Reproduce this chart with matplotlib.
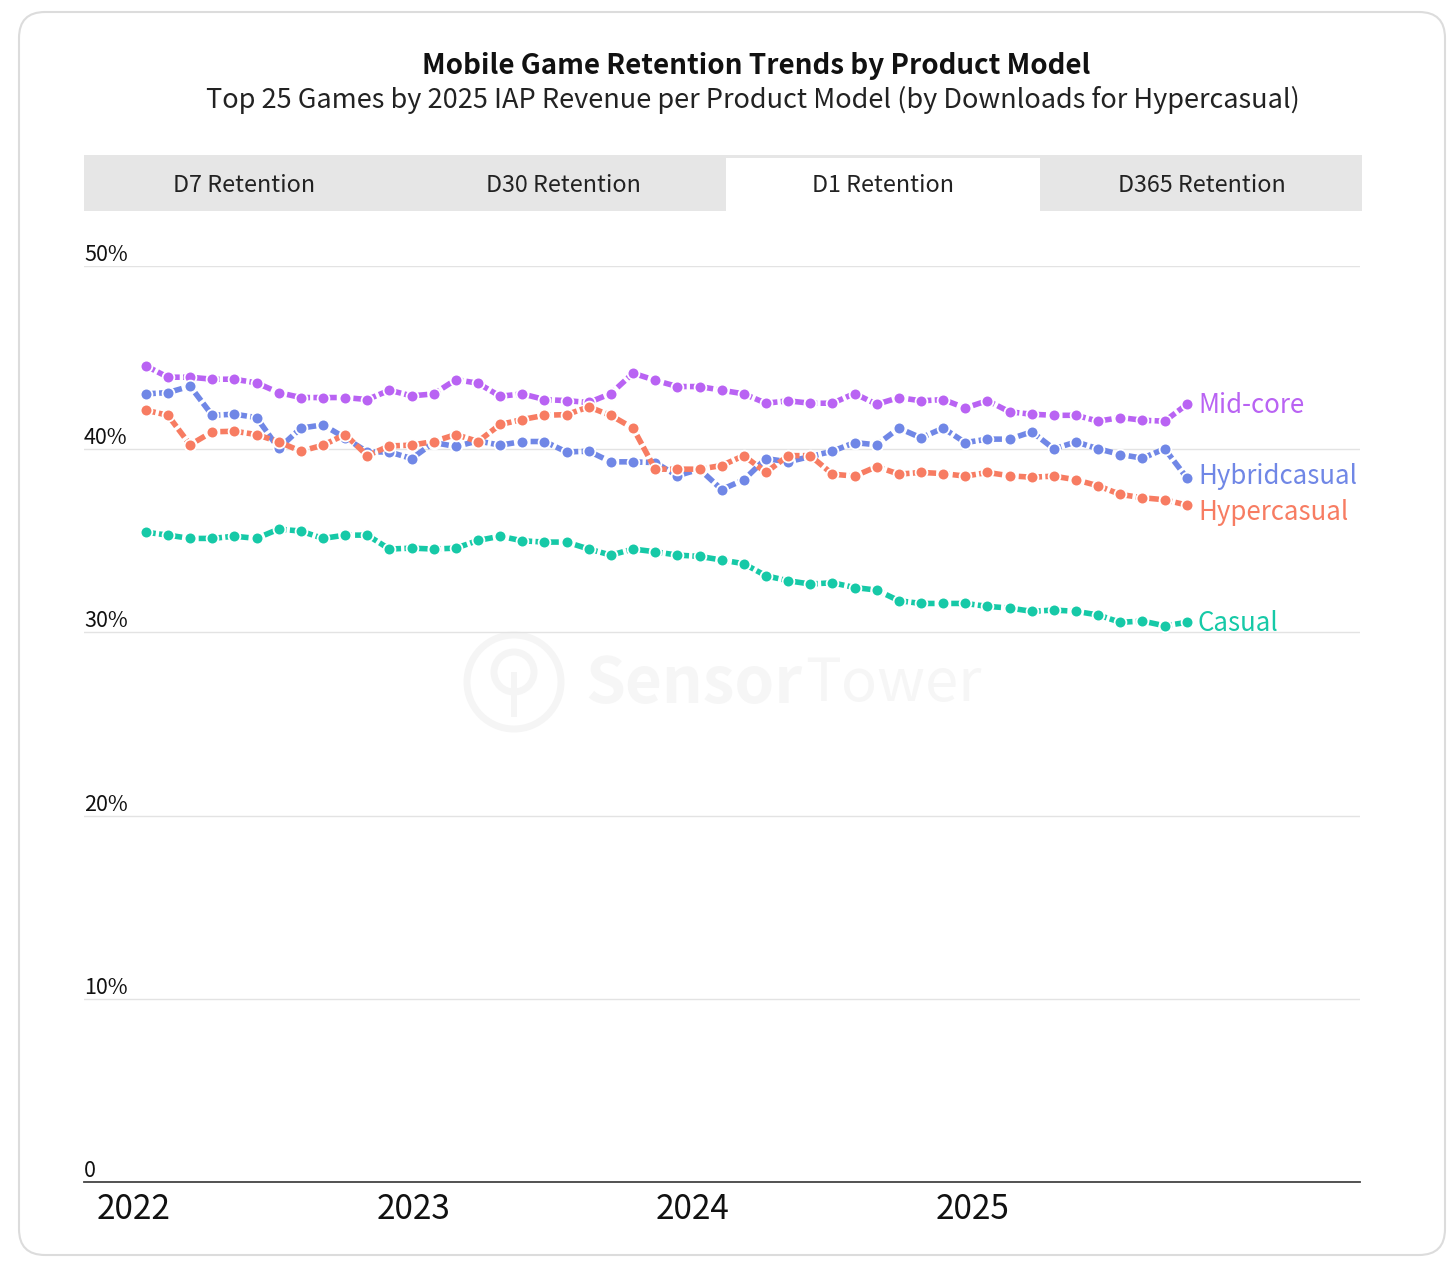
import numpy as np
import matplotlib
matplotlib.use("Agg")
import matplotlib.pyplot as plt
from matplotlib.patches import FancyBboxPatch, Rectangle, Circle

plt.rcParams['font.family'] = ['Noto Sans CJK SC', 'DejaVu Sans']

# --- data (D1 retention, %) ---
years = ["2022", "2023", "2024", "2025"]
year_pos = [-0.57, 12.07, 24.70, 37.33]   # position of year labels in point-index units

series_names = ["Mid-core", "Hybridcasual", "Hypercasual", "Casual"]

midcore = [44.55, 43.93, 43.93, 43.82, 43.82, 43.62, 43.09, 42.82, 42.82, 42.82,
           42.71, 43.22, 42.91, 43.02, 43.80, 43.60, 42.89, 43.02, 42.71,
           42.65, 42.55, 43.04, 44.15, 43.76, 43.42, 43.42, 43.22, 43.02, 42.51,
           42.64, 42.51, 42.51, 43.04, 42.45, 42.82, 42.64, 42.71, 42.25,
           42.65, 42.04, 41.91, 41.85, 41.85, 41.53, 41.73, 41.58, 41.53, 42.44]

hybrid = [43.02, 43.09, 43.44, 41.85, 41.91, 41.73, 40.04, 41.15, 41.33, 40.62,
          39.85, 39.85, 39.49, 40.36, 40.15, 40.45, 40.22, 40.42, 40.42,
          39.85, 39.89, 39.31, 39.31, 39.27, 38.55, 38.91, 37.80, 38.33, 39.49,
          39.31, 39.60, 39.89, 40.36, 40.24, 41.15, 40.62, 41.15, 40.36,
          40.55, 40.55, 40.95, 40.02, 40.40, 40.02, 39.71, 39.51, 40.02, 38.44]

hyper = [42.13, 41.85, 40.24, 40.95, 40.98, 40.80, 40.40, 39.89, 40.22, 40.80,
         39.65, 40.18, 40.22, 40.42, 40.80, 40.42, 41.35, 41.62, 41.85,
         41.89, 42.31, 41.84, 41.15, 38.91, 38.91, 38.91, 39.11, 39.65, 38.73,
         39.65, 39.65, 38.64, 38.53, 39.05, 38.64, 38.73, 38.67, 38.53,
         38.73, 38.55, 38.47, 38.53, 38.33, 38.00, 37.53, 37.35, 37.24, 36.95]

casual = [35.47, 35.31, 35.13, 35.13, 35.25, 35.13, 35.64, 35.53, 35.13, 35.31,
          35.31, 34.55, 34.60, 34.55, 34.60, 35.02, 35.25, 35.00, 34.93,
          34.93, 34.55, 34.22, 34.55, 34.40, 34.22, 34.15, 33.95, 33.75, 33.09,
          32.82, 32.64, 32.71, 32.45, 32.31, 31.73, 31.58, 31.58, 31.58,
          31.42, 31.33, 31.15, 31.22, 31.15, 30.95, 30.55, 30.62, 30.36, 30.55]

yticks = [0, 10, 20, 30, 40, 50]
tabs = ["D7 Retention", "D30 Retention", "D1 Retention", "D365 Retention"]
active_tab = 2

colors = {"Mid-core": "#b963f3", "Hybridcasual": "#7087e6",
          "Hypercasual": "#f77c62", "Casual": "#16c9a7"}
label_dy = {"Mid-core": -1, "Hybridcasual": 1, "Hypercasual": -5, "Casual": -1}

W, H = 1456, 1269
fig = plt.figure(figsize=(W / 100, H / 100), dpi=100)

# background layer in pixel coordinates
bg = fig.add_axes([0, 0, 1, 1], zorder=0)
bg.set_xlim(0, W)
bg.set_ylim(H, 0)
bg.axis("off")

bg.add_patch(FancyBboxPatch((19, 12), 1426, 1243, boxstyle="round,pad=0,rounding_size=26",
                            fc="white", ec="#dcdcdc", lw=1.5))

bg.text(756, 66, "Mobile Game Retention Trends by Product Model", ha="center", va="center",
        fontsize=20, fontweight="bold", color="#111111")
bg.text(753, 100, "Top 25 Games by 2025 IAP Revenue per Product Model (by Downloads for Hypercasual)",
        ha="center", va="center", fontsize=19.5, color="#222222")

# tab bar
bg.add_patch(Rectangle((84, 155), 1278, 56, fc="#e6e6e6", ec="none"))
tab_w = 1278 / len(tabs)
for i, t in enumerate(tabs):
    x0 = 84 + i * tab_w
    if i == active_tab:
        bg.add_patch(Rectangle((x0 + 3, 158), tab_w - 6, 53, fc="white", ec="none"))
    bg.text(x0 + tab_w / 2, 185, t, ha="center", va="center", fontsize=16.8, color="#222222")

# watermark
bg.add_patch(Circle((514, 682), 47, fc="none", ec="#f5f5f5", lw=5))
bg.add_patch(Circle((514, 672), 20, fc="none", ec="#f5f5f5", lw=5))
bg.add_patch(Rectangle((511, 672), 6, 45, fc="#f5f5f5", ec="none"))
bg.text(585, 684, "Sensor", ha="left", va="center", fontsize=46, fontweight="bold", color="#f6f6f6")
bg.text(805, 684, "Tower", ha="left", va="center", fontsize=43, color="#f6f6f6")

# --- chart ---
ax = fig.add_axes([84 / W, 1 - 1182 / H, (1360 - 84) / W, (1182 - 266) / H], zorder=2)
ax.patch.set_alpha(0)

x = np.arange(len(midcore))
values = {"Mid-core": midcore, "Hybridcasual": hybrid, "Hypercasual": hyper, "Casual": casual}

for name in ["Casual", "Mid-core", "Hybridcasual", "Hypercasual"]:
    y = values[name]
    ax.plot(x, y, color=colors[name], lw=4, dashes=(1.8, 0.6), marker="o", ms=8.5,
            mfc=colors[name], mec="white", mew=1.3, zorder=3)
    ax.annotate(name, (x[-1], y[-1]), xytext=(8, label_dy[name]), textcoords="offset points",
                ha="left", va="center", fontsize=18.6, color=colors[name])

ax.set_xlim(-2.79, 54.82)
ax.set_ylim(0, 50)

ax.set_yticks(yticks)
ax.set_yticklabels([])
ax.tick_params(axis="y", length=0)
ax.grid(axis="y", color="#e3e3e3", lw=1)
for v in yticks:
    lab = "0" if v == 0 else f"{v}%"
    ax.text(0, v, lab, transform=ax.get_yaxis_transform(), ha="left", va="bottom",
            fontsize=15.5, color="#111111")

ax.set_xticks(year_pos)
ax.set_xticklabels(years, fontsize=24, color="#111111")
ax.tick_params(axis="x", length=0, pad=7)

for s in ["top", "right", "left"]:
    ax.spines[s].set_visible(False)
ax.spines["bottom"].set_color("#444444")
ax.spines["bottom"].set_linewidth(1.3)

fig.savefig("out.png", dpi=100)
